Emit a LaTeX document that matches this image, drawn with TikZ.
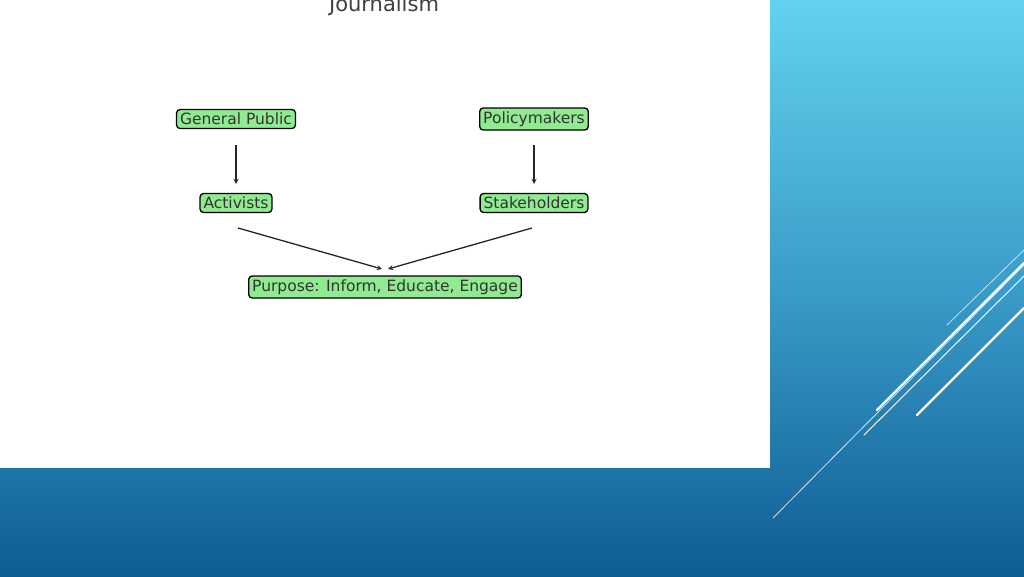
\documentclass[tikz,border=0pt]{standalone}
\usepackage{fontspec}
\setmainfont{DejaVu Sans}
\definecolor{topc}{HTML}{62D2EE}
\definecolor{midc}{HTML}{3A9CC8}
\definecolor{botc}{HTML}{0E5C94}
\definecolor{boxg}{HTML}{90EA90}
\begin{document}
\begin{tikzpicture}[x=1pt,y=-1pt,
 box/.style={draw=black,line width=1.3pt,fill=boxg,rounded corners=3.5pt,inner sep=3.5pt,font=\fontsize{15.5}{18}\selectfont,text=black!80},
 arr/.style={-stealth,line width=1.3pt,black!85},
 deco/.style={white,line cap=round}]
\useasboundingbox (0,0) rectangle (1024,576);
\shade[top color=topc, bottom color=botc, middle color=midc] (0,0) rectangle (1024,576);
\fill[white] (0,0) rectangle (770,468);
\draw[deco,line width=0.8pt,opacity=0.7] (947,325) -- (1024,250);
\draw[deco,line width=2.4pt] (877,410) -- (1024,263);
\draw[deco,line width=0.9pt] (864,435) -- (1024,276);
\draw[deco,line width=2.4pt] (917,415) -- (1024,308);
\draw[deco,line width=0.8pt,opacity=0.8] (773,518) -- (1024,265);
\node[font=\fontsize{21}{24}\selectfont,text=black!75] (title) at (384,6) {Journalism};
\node[box] (gp) at (236,119) {General Public};
\node[box] (pm) at (534,119) {Policymakers};
\node[box] (ac) at (236,203) {Activists};
\node[box] (st) at (534,203) {Stakeholders};
\node[box] (pu) at (385,287) {Purpose: Inform, Educate, Engage};
\coordinate (gpb) at (236,145); \coordinate (acb) at (236,184);
\coordinate (pmb) at (534,145); \coordinate (stb) at (534,184);
\draw[arr] (gpb) -- (acb);
\draw[arr] (pmb) -- (stb);
\coordinate (a1) at (238,228); \coordinate (a2) at (382,269);
\coordinate (s1) at (532,228); \coordinate (s2) at (388,269);
\draw[arr] (a1) -- (a2);
\draw[arr] (s1) -- (s2);
\end{tikzpicture}
\end{document}
